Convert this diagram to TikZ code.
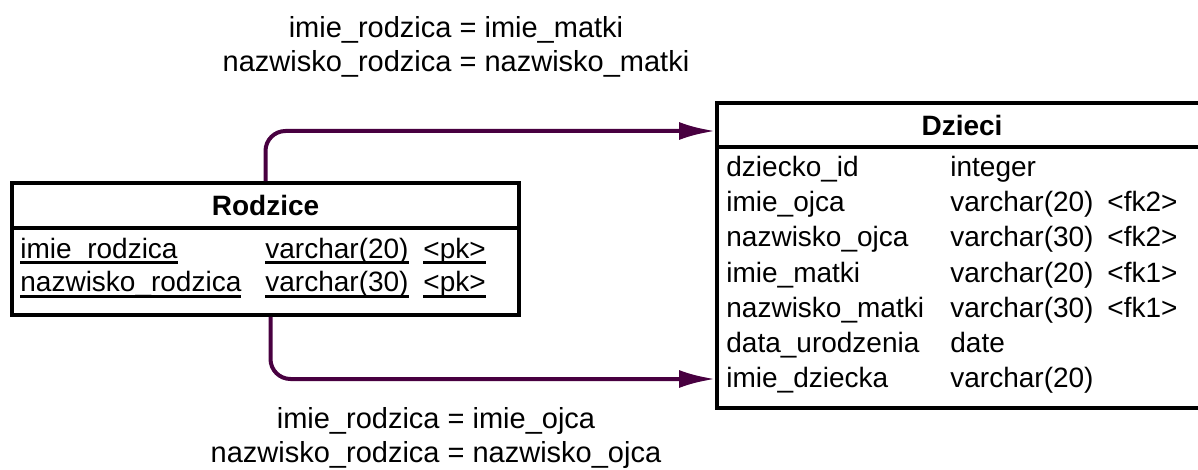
\documentclass[tikz,border=0pt]{standalone}
\usepackage{fontspec}
\setmainfont{Liberation Sans}
\usetikzlibrary{arrows.meta}
\definecolor{fiolet}{RGB}{72,0,64}
% thick underline for key columns
\newcommand\podkr[1]{\setbox0=\hbox{#1}\rlap{\rule[-3.2pt]{\wd0}{1.5pt}}\box0}
\tikzset{
  tabela/.style={draw, line width=1.8pt, inner sep=0pt},
  naglowek/.style={tabela, font=\fontsize{14}{17}\selectfont\bfseries},
  pole/.style={anchor=base west, inner sep=0pt},
  relacja/.style={draw=fiolet, line width=2pt, rounded corners=10pt},
  opis/.style={align=center, inner sep=0pt, font=\fontsize{14.5}{17}\selectfont},
}
\begin{document}
\begin{tikzpicture}[x=0.5pt, y=-0.5pt, >={Latex[length=18pt,width=9pt]},
    font=\fontsize{14}{17}\selectfont]
\useasboundingbox (0,0) rectangle (1198,470);
% Rodzice
\node[naglowek, minimum width=253.5pt, minimum height=22.5pt] (rodzice_h) at (265.5,205.5) {Rodzice};
\node[tabela, minimum width=253.5pt, minimum height=43.5pt] (rodzice) at (265.5,271.5) {};
\node[pole] (r1a) at (20,258) {\podkr{imie\_rodzica}};
\node[pole] (r1b) at (265,258) {\podkr{varchar(20)}};
\node[pole] (r1c) at (423,258) {\podkr{<pk>}};
\node[pole] (r2a) at (20,292) {\podkr{nazwisko\_rodzica}};
\node[pole] (r2b) at (265,292) {\podkr{varchar(30)}};
\node[pole] (r2c) at (423,292) {\podkr{<pk>}};
% Dzieci
\node[naglowek, minimum width=245pt, minimum height=22pt] (dzieci_h) at (962,125) {Dzieci};
\node[tabela, minimum width=245pt, minimum height=130.5pt] (dzieci) at (962,277.5) {};
\foreach \a/\b/\c [count=\i from 0] in {dziecko\_id/integer/{},
    imie\_ojca/varchar(20)/<fk2>, nazwisko\_ojca/varchar(30)/<fk2>,
    imie\_matki/varchar(20)/<fk1>, nazwisko\_matki/varchar(30)/<fk1>,
    data\_urodzenia/date/{}, imie\_dziecka/varchar(20)/{}}
{
    \node[pole] (dk\i a) at (726,{177+35*\i}) {\a};
    \node[pole] (dk\i b) at (950,{177+35*\i}) {\b};
    \node[pole] (dk\i c) at (1107,{177+35*\i}) {\c};
}
% relacje
\coordinate (fk1) at (715,131);
\coordinate (fk2) at (715,379);
\draw[relacja,->] (rodzice_h.north) |- (fk1);
\draw[relacja,->] ([xshift=2.5pt]rodzice.south) |- (fk2);
\node[opis] (opis1) at (456,46.5) {imie\_rodzica = imie\_matki\\nazwisko\_rodzica = nazwisko\_matki};
\node[opis] (opis2) at (436,438) {imie\_rodzica = imie\_ojca\\nazwisko\_rodzica = nazwisko\_ojca};
\end{tikzpicture}
\end{document}
